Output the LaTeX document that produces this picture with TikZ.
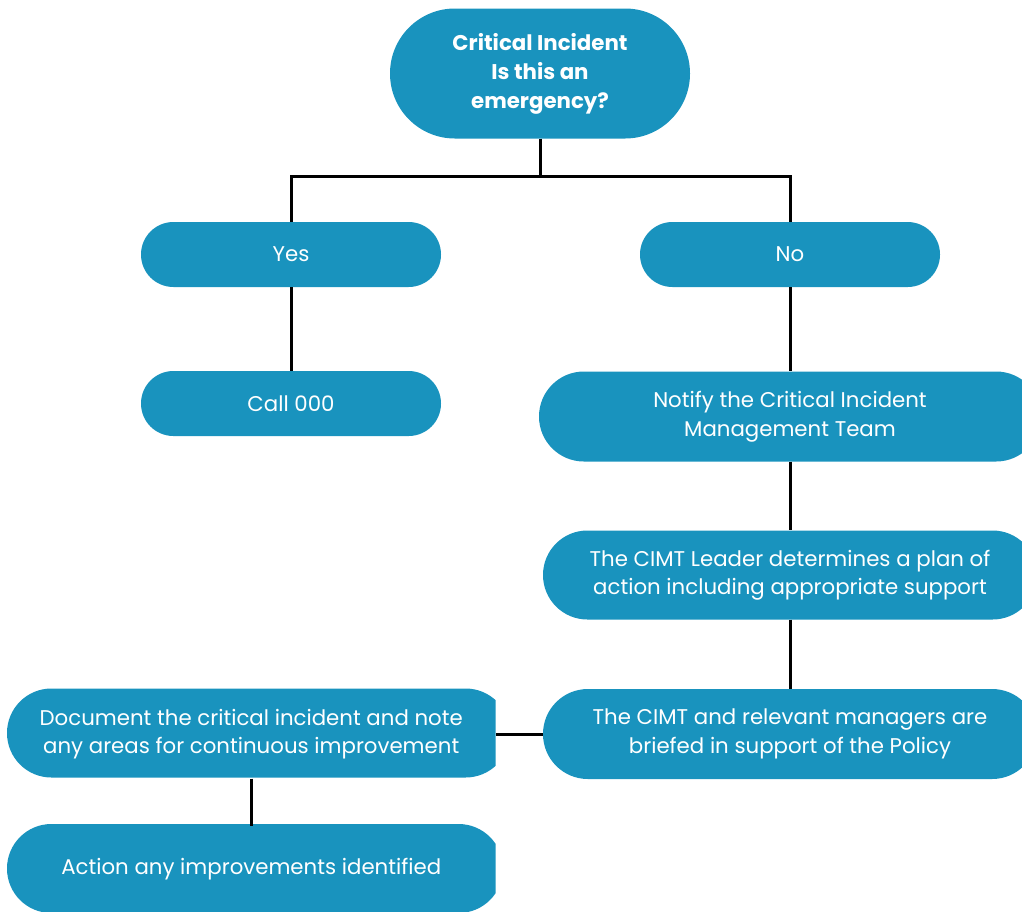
\documentclass[tikz,border=0pt]{standalone}
\usepackage{fontspec}
\setmainfont{Poppins}
\definecolor{cimt}{RGB}{25,147,190}
\tikzset{
  box/.style={fill=cimt, text=white, align=center, inner sep=0pt,
    font=\fontsize{21.3}{28.5}\selectfont},
  tbox/.style={text=white, align=center, inner sep=0pt,
    font=\fontsize{21.3}{28.5}\selectfont},
  conn/.style={draw=black, line width=3pt},
}
\begin{document}
\begin{tikzpicture}[x=1pt,y=-1pt]
\useasboundingbox (0,0) rectangle (1022,911);
\clip (0,0) rectangle (1022,911);
% top
\node[box, minimum width=300pt, minimum height=130pt, rounded corners=64.9pt,
  font=\fontsize{21.3}{29}\selectfont\bfseries] (top) at (540,73.5)
  {Critical Incident\\Is this an\\emergency?};
\node[box, minimum width=300pt, minimum height=65pt, rounded corners=32.4pt] (yes) at (291,254.5) {Yes};
\node[box, minimum width=300pt, minimum height=65pt, rounded corners=32.4pt] (no) at (790,254.5) {No};
\node[box, minimum width=300pt, minimum height=65pt, rounded corners=32.4pt] (call) at (291,403.5) {Call 000};
\node[box, minimum width=502pt, minimum height=90pt, rounded corners=44.9pt] (notify) at (790,416.5)
  {Notify the Critical Incident\\Management Team};
\node[box, minimum width=494pt, minimum height=89pt, rounded corners=44.4pt] (leader) at (790,575)
  {The CIMT Leader determines a plan of\\action including appropriate support};
\node[box, minimum width=494pt, minimum height=90pt, rounded corners=44.9pt] (brief) at (790,734)
  {The CIMT and relevant managers are\\briefed in support of the Policy};
% clipped left boxes
\begin{scope}
  \clip (0,0) rectangle (495.5,911);
  \fill[cimt, rounded corners=44.4pt] (7,688.5) rectangle (510,777.5);
  \fill[cimt, rounded corners=44.4pt] (7,824) rectangle (503,913);
\end{scope}
\node[tbox, minimum width=488.5pt, minimum height=89pt] (doc) at (251.25,734)
  {Document the critical incident and note\\any areas for continuous improvement};
\node[tbox, minimum width=488.5pt, minimum height=87pt] (act) at (251.25,869.5)
  {Action any improvements identified};
% connectors
\draw[conn] (top.south) -- ++(0,38) coordinate (split);
\draw[conn] (split) -| (yes.north);
\draw[conn] (split) -| (no.north);
\draw[conn] (yes.south) -- (call.north);
\draw[conn] (no.south) -- (notify.north);
\draw[conn] (notify.south) -- (leader.north);
\draw[conn] (leader.south) -- (brief.north);
\draw[conn] (brief.west) -- (doc.east);
\draw[conn] (doc.south) -- (act.north);
\end{tikzpicture}
\end{document}
